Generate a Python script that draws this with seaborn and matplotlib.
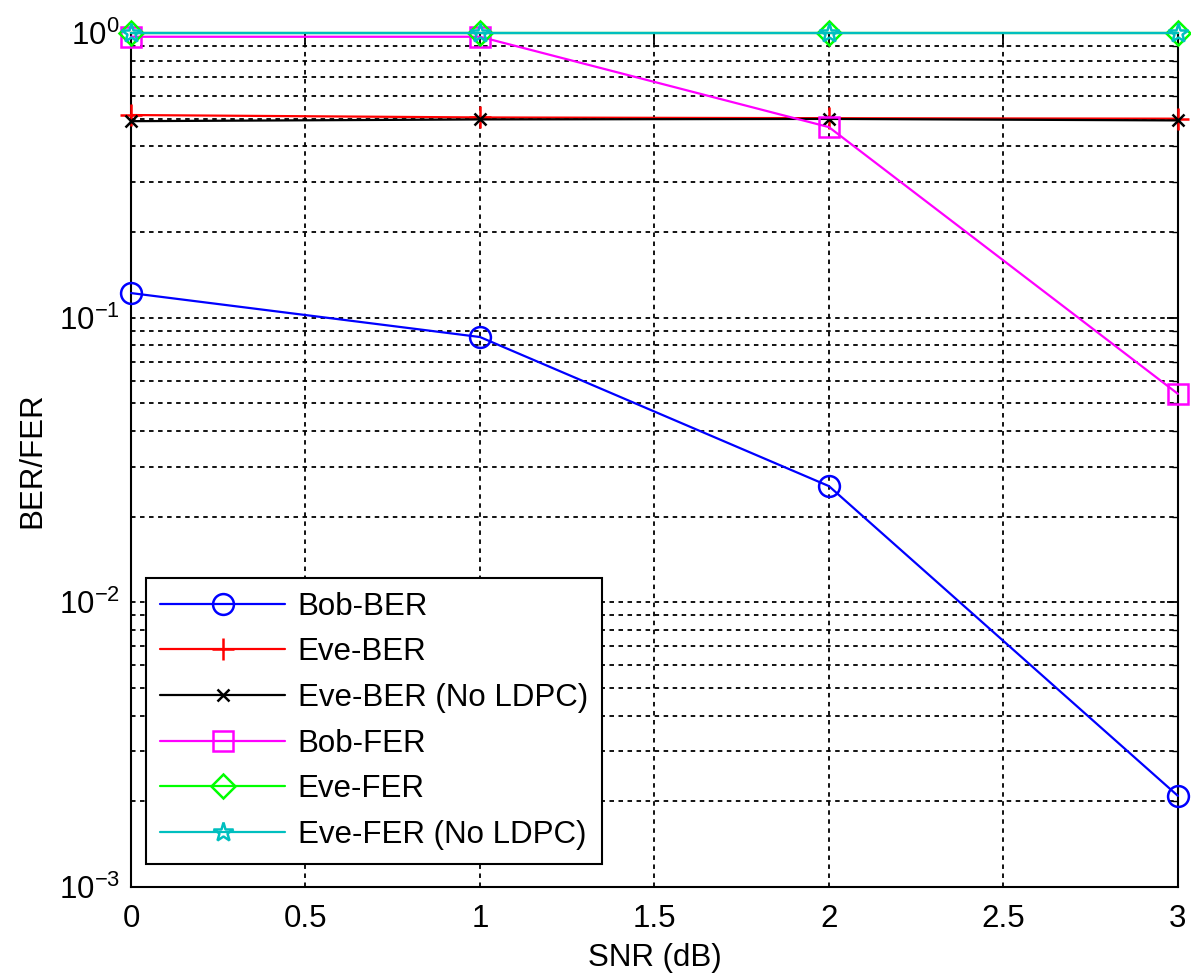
"""
BER/FER vs SNR for Bob and Eve (MATLAB-style log plot)
"""
import numpy as np
import pandas as pd
import matplotlib
matplotlib.use('Agg')
import matplotlib.pyplot as plt
import matplotlib.ticker as mticker
import seaborn as sns

# data
snr = [0, 1, 2, 3]
bob_ber = [0.122, 0.0855, 0.0256, 0.00209]
eve_ber = [0.515, 0.505, 0.502, 0.50]
eve_ber_noldpc = [0.49, 0.497, 0.499, 0.493]
bob_fer = [0.97, 0.97, 0.467, 0.054]
eve_fer = [1.0, 1.0, 1.0, 1.0]
eve_fer_noldpc = [1.0, 1.0, 1.0, 1.0]

labels = ['Bob-BER', 'Eve-BER', 'Eve-BER (No LDPC)',
          'Bob-FER', 'Eve-FER', 'Eve-FER (No LDPC)']
series = [bob_ber, eve_ber, eve_ber_noldpc, bob_fer, eve_fer, eve_fer_noldpc]

# style per curve
colors = ['#0000ff', '#ff0000', '#000000', '#ff00ff', '#00ff00', '#00bfbf']
markers = ['o', '+', 'x', 's', 'D', '*']
msizes = [15, 16, 9, 14, 12, 15]

FS = 22.5

sns.set_style('white')
plt.rcParams['font.family'] = ['Liberation Sans', 'DejaVu Sans']
plt.rcParams['mathtext.fontset'] = 'custom'
plt.rcParams['mathtext.rm'] = 'Liberation Sans'
plt.rcParams['mathtext.it'] = 'Liberation Sans'
plt.rcParams['font.size'] = FS
plt.rcParams['text.color'] = 'black'
plt.rcParams['axes.labelcolor'] = 'black'
plt.rcParams['xtick.color'] = 'black'
plt.rcParams['ytick.color'] = 'black'

rows = []
for lab, vals in zip(labels, series):
    for x, v in zip(snr, vals):
        rows.append({'SNR': x, 'val': v, 'curve': lab})
df = pd.DataFrame(rows)

fig = plt.figure(figsize=(11.91, 9.76), dpi=100)
ax = fig.add_axes([0.110, 0.0912, 0.879, 0.875])

for lab, c, m, ms in zip(labels, colors, markers, msizes):
    sub = df[df['curve'] == lab]
    sns.lineplot(data=sub, x='SNR', y='val', ax=ax, color=c, marker=m,
                 markersize=ms, linewidth=1.6, markerfacecolor='none',
                 markeredgecolor=c, markeredgewidth=1.8, label=lab,
                 estimator=None, sort=False, clip_on=False, zorder=5)

ax.set_yscale('log')
ax.set_xlim(0, 3)
ax.set_ylim(1e-3, 1)
ax.xaxis.set_major_locator(mticker.MultipleLocator(0.5))
ax.xaxis.set_major_formatter(mticker.FuncFormatter(lambda v, p: f'{v:g}'))
ax.yaxis.set_major_locator(mticker.LogLocator(base=10))
ax.yaxis.set_minor_locator(mticker.LogLocator(base=10, subs=np.arange(2, 10)))
ax.yaxis.set_minor_formatter(mticker.NullFormatter())
ax.yaxis.set_major_formatter(mticker.FuncFormatter(
    lambda v, p: r'$10^{\mathrm{%d}}$' % int(round(np.log10(v)))))

grid_kw = dict(color='black', linestyle=(0, (2.5, 2.5)), linewidth=1.3)
ax.grid(True, which='major', axis='both', **grid_kw)
ax.grid(True, which='minor', axis='y', **grid_kw)
ax.set_axisbelow(True)

for sp in ax.spines.values():
    sp.set_color('black')
    sp.set_linewidth(1.5)
ax.tick_params(which='both', direction='in', color='black', top=True, right=True)
ax.tick_params(which='major', length=8, width=1.3, labelsize=FS)
ax.tick_params(axis='x', which='major', pad=12)
ax.tick_params(axis='y', which='major', pad=8)
ax.tick_params(which='minor', length=4, width=1.0)

ax.set_xlabel('SNR (dB)', fontsize=FS, labelpad=7)
ax.set_ylabel('BER/FER', fontsize=FS, labelpad=8)

leg = ax.legend(loc='lower left', bbox_to_anchor=(0.0143, 0.027),
                borderaxespad=0, fancybox=False, framealpha=1,
                edgecolor='black', fontsize=FS, handlelength=4.0,
                handletextpad=0.4, labelspacing=0.5, borderpad=0.45)
leg.get_frame().set_linewidth(1.5)
leg.set_zorder(10)

plt.savefig('out.png', dpi=100)
